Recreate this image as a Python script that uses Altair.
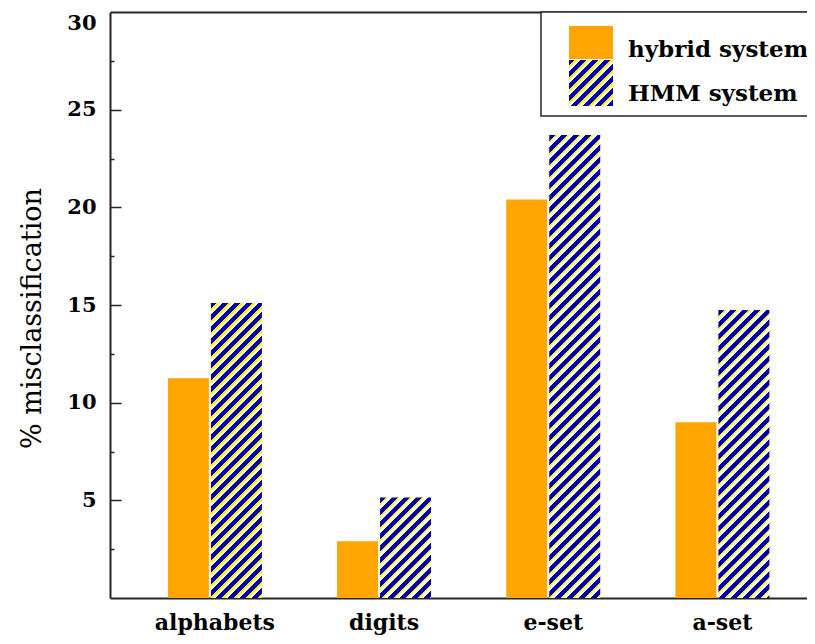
import altair as alt
import pandas as pd

categories = ["alphabets", "digits", "e-set", "a-set"]
hybrid_values = [11.25, 2.9, 20.4, 9.0]
hmm_values = [15.1, 5.15, 23.7, 14.75]
series_names = ["hybrid system", "HMM system"]
y_tick_values = [0, 5, 10, 15, 20, 25, 30]
y_major_ticks = [5, 10, 15, 20, 25]
y_minor_ticks = [2.5, 7.5, 12.5, 17.5, 22.5, 27.5]

W, H = 697, 586
YMAX = 30
ORANGE = "#FFA500"
BLUE = "#0000A8"
YELLOW = "#FFF200"
WHITE = "#FFFFFF"
FRAME = "#262626"
FONT = "DejaVu Serif"
HMM_W = 51


def stripes(w, h, period=12.0):
    total = w + h
    k = (w + h) / (w * w + h * h)
    segs = [(BLUE, 0.5), (YELLOW, 0.2), (WHITE, 0.3)]
    stops = []
    s = 0.0
    while s < total:
        for col, frac in segs:
            s2 = s + frac * period
            a = min(s, total) / total
            b = min(s2, total) / total
            stops.append({"offset": a, "color": col})
            stops.append({"offset": b, "color": col})
            s = s2
            if s >= total:
                break
    return {"gradient": "linear", "stops": stops,
            "x1": 0, "y1": 0, "x2": w * k, "y2": h * k}


df = pd.DataFrame({
    "category": categories * 2,
    "series": [series_names[0]] * 4 + [series_names[1]] * 4,
    "value": hybrid_values + hmm_values,
})

xscale = alt.Scale(paddingInner=0, paddingOuter=0.06, align=1)
yscale = alt.Scale(domain=[0, YMAX], nice=False, zero=True)

hyb = alt.Chart(df).transform_filter(
    alt.datum.series == series_names[0]
).mark_bar(color=ORANGE, width=41, xOffset=-26.5).encode(
    x=alt.X("category:N", sort=categories, scale=xscale, title=None,
            axis=alt.Axis(labelAngle=0, ticks=False, domain=True,
                          domainColor=FRAME, domainWidth=2,
                          labelFont=FONT, labelFontWeight="bold",
                          labelFontSize=22, labelColor="black",
                          labelPadding=14)),
    y=alt.Y("value:Q", scale=yscale,
            axis=alt.Axis(values=y_tick_values, ticks=False, domain=True,
                          domainColor=FRAME, domainWidth=2,
                          grid=False, labelFlush=True,
                          labelExpr="datum.value == 0 ? '' : datum.label",
                          labelFont=FONT, labelFontWeight="bold",
                          labelFontSize=21, labelColor="black",
                          labelPadding=14,
                          title="% misclassification", titleFont=FONT,
                          titleFontWeight="normal", titleFontSize=27,
                          titleColor="black", titleAngle=270,
                          titleX=-78, titleY=306, titleAlign="center",
                          titleBaseline="middle")),
)

tick_axes = [
    dict(values=y_major_ticks, size=-11),
    dict(values=y_minor_ticks, size=-4),
]

hmm_layers = []
for i, cat in enumerate(categories):
    v = hmm_values[i]
    hpx = v * H / YMAX
    if i < 2:
        ta = tick_axes[i]
        yaxis = alt.Axis(values=ta["values"], orient="left",
                         labels=False, domain=False, grid=False,
                         ticks=True, tickSize={"expr": str(ta["size"])},
                         tickWidth=1.5, tickColor=FRAME, title=None)
    else:
        yaxis = None
    if i == 0:
        xaxis = alt.Axis(orient="top", labels=False, ticks=False, domain=True,
                         domainColor=FRAME, domainWidth=2, title=None)
    else:
        xaxis = None
    hmm_layers.append(
        alt.Chart(df).transform_filter(
            (alt.datum.series == series_names[1]) & (alt.datum.category == cat)
        ).mark_bar(color=stripes(HMM_W, hpx), width=HMM_W, xOffset=21.5).encode(
            x=alt.X("category:N", sort=categories, scale=xscale, axis=xaxis, title=None),
            y=alt.Y("value:Q", scale=yscale, axis=yaxis, title=None),
        )
    )

one = pd.DataFrame({"label": [series_names[0]]})
box = alt.Chart(one).mark_rect(fill="white", stroke=FRAME, strokeWidth=1.5).encode(
    x=alt.value(431), x2=alt.value(W + 20), y=alt.value(0), y2=alt.value(104))
sw_orange = alt.Chart(one).mark_rect(color=ORANGE).encode(
    x=alt.value(459), x2=alt.value(503), y=alt.value(14), y2=alt.value(47))
sw_hmm = alt.Chart(one).mark_rect(color=stripes(44, 46)).encode(
    x=alt.value(459), x2=alt.value(503), y=alt.value(48), y2=alt.value(94))

legend_texts = []
for i, name in enumerate(series_names):
    legend_texts.append(
        alt.Chart(pd.DataFrame({"label": [name]})).mark_text(
            align="left", baseline="alphabetic", font=FONT, fontWeight="bold",
            fontSize=23, color="black"
        ).encode(text="label:N", x=alt.value(518), y=alt.value([45, 89][i]))
    )

chart = alt.layer(
    hyb, *hmm_layers, box, sw_orange, sw_hmm, *legend_texts
).resolve_axis(
    x="independent", y="independent"
).properties(
    width=W, height=H,
    autosize=alt.AutoSizeParams(type="none"),
    padding={"left": 102, "top": 4, "right": 0, "bottom": 38},
).configure_view(
    stroke="transparent", strokeWidth=0
).configure_axis(grid=False)

chart.save("out.html", embed_options={"renderer": "svg", "actions": False})
